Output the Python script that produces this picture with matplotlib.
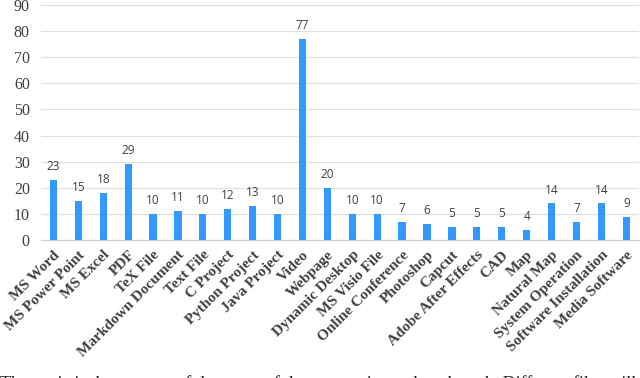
import numpy as np
import matplotlib.pyplot as plt

#--------------------------------------
categories = ['MS Word', 'MS Power Point', 'MS Excel', 'PDF', 'TeX File',
              'Markdown Document', 'Text File', 'C Project', 'Python Project',
              'Java Project', 'Video', 'Webpage', 'Dynamic Desktop',
              'MS Visio File', 'Online Conference', 'Photoshop', 'Capcut',
              'Adobe After Effects', 'CAD', 'Map', 'Natural Map',
              'System Operation', 'Software Installation', 'Media Software']
counts     = [23, 15, 18, 29, 10, 11, 10, 12, 13, 10, 77, 20, 10, 10, 7, 6, 5,
              5, 5, 4, 14, 7, 14, 9]
yticks     = [0, 10, 20, 30, 40, 50, 60, 70, 80, 90]
caption    = ('The statistical summary of the types of documents in our benchmark. '
              'Different files will have different')
#--------------------------------------
fig = plt.figure(figsize=(6.4, 3.78), dpi=100)
ax  = fig.add_axes([0.064, 0.365, 0.934, 0.622])

x = np.arange(len(categories))
ax.bar(x, counts, width=0.29, color='#3399ff', zorder=3)
for xi, v in zip(x, counts):
    ax.annotate(str(v), (xi, v), xytext=(0, 5), textcoords='offset points',
                ha='center', va='bottom', fontsize=8.5, color='#404040',
                family='Open Sans')

ax.set_xlim(-0.5, len(categories) - 0.5)
ax.set_ylim(0, 90)
ax.set_yticks(yticks)
ax.set_yticklabels([str(t) for t in yticks], family='Liberation Serif',
                   fontsize=11.5, color='#404040')
ax.set_xticks(x)
ax.set_xticklabels(categories, rotation=45, ha='right', rotation_mode='anchor',
                   family='Liberation Serif', fontweight='bold', fontsize=11,
                   color='#404040')
ax.tick_params(axis='both', length=0)
ax.tick_params(axis='x', pad=6)
ax.tick_params(axis='y', pad=8)
ax.grid(axis='y', color='#e0e0e0', linewidth=0.9, zorder=0)
for s in ['top', 'right', 'left']:
    ax.spines[s].set_visible(False)
ax.spines['bottom'].set_color('#d0d0d0')

# caption of the source page, only its top edge shows
fig.text(0.0, -0.029, caption, family='Liberation Serif', fontsize=13,
         color='#222222', va='baseline')

fig.savefig('out.png', dpi=100)
